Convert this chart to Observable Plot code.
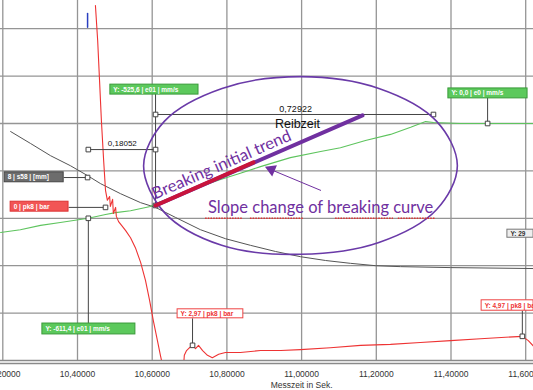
<!DOCTYPE html>
<html>
<head>
<meta charset="utf-8">
<script src="https://cdn.jsdelivr.net/npm/d3@7"></script>
<script src="https://cdn.jsdelivr.net/npm/@observablehq/plot@0.6"></script>
<style>
  html, body { margin: 0; padding: 0; background: #fff; overflow: hidden; }
</style>
</head>
<body>
<div id="chart"></div>
<script>
// ---- Data (x: Messzeit in s, y: grid divisions) ----
const xTicks = [10.2, 10.4, 10.6, 10.8, 11.0, 11.2, 11.4, 11.6];
const yGrid = [1, 2, 3, 4, 5, 6, 7];

const redFall = [
  [10.448,7.49],[10.454,6.75],[10.459,5.91],[10.464,5.06],[10.470,4.22],[10.475,3.59],
  [10.480,3.38],[10.486,3.46],[10.488,3.25],[10.494,3.40],[10.496,3.10],[10.502,3.23],
  [10.504,3.04],[10.510,2.93],[10.518,2.85],[10.529,2.74],[10.542,2.59],[10.555,2.38],
  [10.569,2.07],[10.582,1.69],[10.593,1.27],[10.603,0.84],[10.614,0.42],[10.622,0.11],[10.628,-0.11]
];
const redRise = [
  [10.684,-0.11],[10.686,0.11],[10.692,0.21],[10.700,0.27],[10.708,0.32],[10.716,0.25],
  [10.724,0.32],[10.735,0.21],[10.748,0.11],[10.761,0.06],[10.778,0.13],[10.796,0.17],
  [10.836,0.17],[10.890,0.21],[10.944,0.21],[10.997,0.23],[11.077,0.27],[11.158,0.32],
  [11.238,0.34],[11.318,0.38],[11.399,0.42],[11.479,0.46],[11.546,0.49],[11.591,0.51],
  [11.607,0.42],[11.621,0.30]
];
const green = [
  [10.194,2.70],[10.247,2.76],[10.301,2.85],[10.354,2.91],[10.429,3.00],[10.475,3.08],
  [10.502,3.12],[10.542,3.16],[10.595,3.25],[10.609,3.31],[10.676,3.50],[10.729,3.67],
  [10.783,3.82],[10.836,3.95],[10.890,4.09],[10.970,4.28],[11.051,4.41],[11.104,4.49],
  [11.171,4.64],[11.238,4.77],[11.292,4.92],[11.332,5.04],[11.353,5.02],[11.425,5.00],
  [11.533,5.00],[11.621,5.00]
];
const gray = [
  [10.221,4.83],[10.274,4.58],[10.328,4.32],[10.381,4.11],[10.427,3.90],[10.462,3.73],
  [10.515,3.52],[10.569,3.33],[10.609,3.23],[10.662,3.02],[10.729,2.76],[10.796,2.57],
  [10.863,2.43],[10.930,2.30],[10.997,2.19],[11.064,2.11],[11.131,2.05],[11.198,2.00],
  [11.265,1.98],[11.399,1.96],[11.621,1.94]
];
const blue = [[10.427,7.32],[10.427,7.03]];

// ---- Annotations ----
const ellipsePts = [
  [11.417,4.11],[11.361,5.05],[11.207,5.74],[10.997,5.99],[10.787,5.74],[10.633,5.05],
  [10.577,4.11],[10.633,3.12],[10.786,2.43],[10.997,2.24],[11.207,2.49],[11.361,3.18]
];
const trendRed = [[10.609,3.27],[10.871,4.18]];
const trendPurple = [[10.609,3.27],[11.163,5.17]];

const cursorLines = [
  {x1:10.609, y1:5.19, x2:11.353, y2:5.19},
  {x1:10.429, y1:4.45, x2:10.609, y2:4.45},
  {x1:10.609, y1:5.63, x2:10.609, y2:3.27},
  {x1:11.498, y1:5.55, x2:11.498, y2:5.00},
  {x1:10.363, y1:3.86, x2:10.427, y2:3.86},
  {x1:10.376, y1:3.23, x2:10.475, y2:3.23},
  {x1:10.429, y1:3.00, x2:10.429, y2:0.78},
  {x1:10.708, y1:0.89, x2:10.708, y2:0.32},
  {x1:11.591, y1:1.05, x2:11.591, y2:0.51}
];
const markers = [
  [10.609,5.19],[10.609,4.45],[10.429,4.45],[11.353,5.19],[11.498,5.00],[10.427,3.86],
  [10.475,3.23],[10.429,3.00],[10.708,0.32],[11.591,0.51],[10.609,3.27]
];
const tags = [
  {x1:10.488, x2:10.724, y1:5.61, y2:5.82, text:"Y: -525,6 | e01 | mm/s", fill:"#5cc95c", stroke:"#3a9a3a", color:"#fff"},
  {x1:11.393, x2:11.605, y1:5.53, y2:5.74, text:"Y: 0,0 | e0 | mm/s", fill:"#5cc95c", stroke:"#3a9a3a", color:"#fff"},
  {x1:10.205, x2:10.363, y1:3.76, y2:3.97, text:"8 | s58 | [mm]", fill:"#6d6d6d", stroke:"#444", color:"#fff"},
  {x1:10.221, x2:10.376, y1:3.14, y2:3.35, text:"0 | pk8 | bar", fill:"#f25555", stroke:"#d33", color:"#fff"},
  {x1:10.306, x2:10.555, y1:0.55, y2:0.78, text:"Y: -611,4 | e01 | mm/s", fill:"#5cc95c", stroke:"#3a9a3a", color:"#fff"},
  {x1:10.668, x2:10.844, y1:0.89, y2:1.08, text:"Y: 2,97 | pk8 | bar", fill:"#fff", stroke:"#ee4444", color:"#e33"},
  {x1:11.482, x2:11.621, y1:1.05, y2:1.27, text:"Y: 4,97 | pk8 | bar", fill:"#fff", stroke:"#ee4444", color:"#e33"},
  {x1:11.551, x2:11.621, y1:2.59, y2:2.76, text:"Y: 29", fill:"#eee", stroke:"#777", color:"#333"}
];
const notes = [
  {x:10.984, y:5.31, text:"0,72922", size:9, weight:"normal"},
  {x:10.989, y:5.00, text:"Reibzeit", size:12.5, weight:"bold"},
  {x:10.520, y:4.58, text:"0,18052", size:8, weight:"normal"}
];
const breakingLabel = [{x:10.786, y:4.13, text:"Breaking initial trend"}];
const slopeLabel = [{x:11.051, y:3.23, text:"Slope change of breaking curve"}];
const squiggles = [
  {x1:10.743, x2:10.844, y:3.00},
  {x1:10.863, x2:11.005, y:3.00},
  {x1:11.091, x2:11.246, y:3.00},
  {x1:11.259, x2:11.358, y:3.00}
];
const arrowData = [{x1:11.051, y1:3.59, x2:10.911, y2:4.05}];
const xLabel = [{x:11.0, text:"Messzeit in Sek."}];

const fmt = d => d.toFixed(5).replace(".", ",");
const purple = "#7030a0";

const chart = Plot.plot({
  width: 533,
  height: 390,
  marginLeft: 0,
  marginRight: 0,
  marginTop: 0,
  marginBottom: 30,
  style: {background: "#fff", fontFamily: "Liberation Sans, Arial, sans-serif"},
  x: {domain: [10.19384, 11.62088], axis: null},
  y: {domain: [0, 7.595], axis: null},
  marks: [
    // grid
    Plot.ruleX(xTicks, {stroke: "#959595", strokeWidth: 1.3}),
    Plot.ruleY(yGrid, {stroke: "#959595", strokeWidth: 1.3}),
    // axis double line
    Plot.ruleY([0], {stroke: "#8a8a8a", strokeWidth: 1.3}),
    Plot.ruleY([0], {stroke: "#8a8a8a", strokeWidth: 1.3, dy: 3}),
    // tick labels
    Plot.text(xTicks, {x: d => d, y: 0, text: fmt, dy: 14, fontSize: 8.5, fill: "#333"}),
    Plot.text(xLabel, {x: "x", y: 0, text: "text", dy: 25, fontSize: 8.5, fill: "#333"}),
    // curves
    Plot.line(gray, {x: d => d[0], y: d => d[1], stroke: "#555", strokeWidth: 1}),
    Plot.line(green, {x: d => d[0], y: d => d[1], stroke: "#5ec45e", strokeWidth: 1.1}),
    Plot.line(redFall, {x: d => d[0], y: d => d[1], stroke: "#ee3333", strokeWidth: 1.1, clip: true}),
    Plot.line(redRise, {x: d => d[0], y: d => d[1], stroke: "#ee3333", strokeWidth: 1.1, clip: true}),
    Plot.line(blue, {x: d => d[0], y: d => d[1], stroke: "#2a3fc0", strokeWidth: 1.5}),
    // cursor lines and markers
    Plot.link(cursorLines, {x1: "x1", y1: "y1", x2: "x2", y2: "y2", stroke: "#444", strokeWidth: 1}),
    Plot.dot(markers, {x: d => d[0], y: d => d[1], symbol: "square", r: 2.6, fill: "#fff", stroke: "#444", strokeWidth: 1}),
    // tag boxes
    Plot.rect(tags, {x1: "x1", x2: "x2", y1: "y1", y2: "y2", fill: "fill", stroke: "stroke", strokeWidth: 1}),
    Plot.text(tags, {x: "x1", y: d => (d.y1 + d.y2) / 2, text: "text", dx: 3, textAnchor: "start", fill: "color", fontSize: 6.5, fontWeight: "bold", clip: true}),
    // notes
    Plot.text(notes, {x: "x", y: "y", text: "text", fontSize: d => d.size, fontWeight: d => d.weight, fill: "#111"}),
    // ellipse
    Plot.line(ellipsePts, {x: d => d[0], y: d => d[1], curve: "catmull-rom-closed", stroke: "#6a3aa8", strokeWidth: 1.6}),
    // trend line
    Plot.line(trendPurple, {x: d => d[0], y: d => d[1], stroke: purple, strokeWidth: 4}),
    Plot.line(trendRed, {x: d => d[0], y: d => d[1], stroke: "#c8143c", strokeWidth: 4}),
    // purple texts
    Plot.text(breakingLabel, {x: "x", y: "y", text: "text", rotate: -23.5, fontSize: 16.5, fill: purple, fontFamily: "Lato"}),
    Plot.text(slopeLabel, {x: "x", y: "y", text: "text", fontSize: 16.5, fill: purple, fontFamily: "Lato"}),
    Plot.ruleY(squiggles, {x1: "x1", x2: "x2", y: "y", stroke: "#e03030", strokeWidth: 1.5, strokeDasharray: "1.5,1.2"}),
    // arrow
    Plot.arrow(arrowData, {x1: "x1", y1: "y1", x2: "x2", y2: "y2", stroke: purple, strokeWidth: 1, headLength: 0}),
    Plot.dot(arrowData, {x: "x2", y: "y2", symbol: "triangle", r: 4.5, fill: purple, rotate: -67, dx: 3, dy: 1})
  ]
});
document.getElementById("chart").appendChild(chart);
</script>
</body>
</html>
